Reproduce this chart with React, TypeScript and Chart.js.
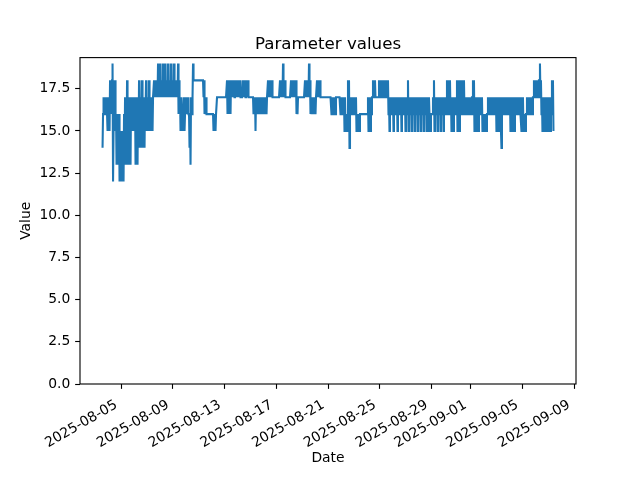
import React, { useEffect, useRef } from "react";
import { Chart, registerables } from "chart.js";

Chart.register(...registerables);

// Series time span (first and last sample)
const startTime = Date.UTC(2025, 7, 3, 13, 20);
const endTime = Date.UTC(2025, 8, 7, 9, 50);

// Readings in chronological order, evenly spaced between startTime and endTime
const valuesAug03toAug08 = [
  14, 16, 17, 16, 17, 16, 17, 16, 17, 16, 15, 17, 16, 17, 15, 18, 16, 18, 16, 18,
  19, 12, 12, 18, 16, 18, 15, 16, 13, 16, 13, 15, 13, 16, 12, 15, 13, 15, 12, 15,
  13, 15, 12, 16, 13, 17, 14, 17, 13, 18, 14, 17, 13, 17, 15, 17, 13, 17, 15, 17,
  15, 17, 15, 17, 16, 17, 13, 17, 15, 17, 13, 17, 14, 18, 15, 17, 14, 17, 16, 18,
  14, 17, 15, 17, 14, 17, 16, 18, 15, 17, 16, 17, 15, 18, 16, 17, 15, 17, 16, 17,
  15, 17, 17, 18, 17, 18, 17, 18, 17, 18, 17, 19, 17, 18, 17, 19, 17, 18, 17, 18,
  17, 19, 17, 18, 17, 19, 17, 18, 17, 18, 17, 19, 17, 18, 17, 18, 17, 19, 17, 18,
  17, 18, 17, 19, 17, 18, 17, 18, 17, 18, 17, 19, 16, 18, 16, 17, 15, 17, 15, 16,
  15, 16, 16, 17, 15, 16, 16, 17, 16, 17, 16, 17, 16, 16, 14, 16, 13, 17, 16, 16,
];
const valuesAug10toAug15 = [
  17, 19, 18, 18, 18, 18, 18, 18, 18, 18, 18, 18, 18, 18, 18, 18, 18, 18, 18, 18,
  18, 18, 17, 18, 16, 17, 16, 17, 16, 16, 16, 16, 16, 16, 16, 16, 16, 16, 16, 16,
  16, 16, 15, 16, 15, 16, 15, 16, 16, 17, 17, 17, 17, 17, 17, 17, 17, 17, 17, 17,
  17, 17, 17, 17, 17, 17, 17, 17, 17, 18, 16, 18, 16, 18, 17, 18, 16, 18, 17, 18,
  17, 18, 17, 18, 17, 17, 17, 18, 17, 18, 17, 18, 17, 18, 17, 18, 17, 17, 17, 17,
  17, 18, 17, 18, 17, 18, 17, 17, 17, 18, 17, 18, 17, 17, 17, 17, 17, 17, 17, 17,
  17, 17, 16, 17, 16, 17, 15, 17, 16, 17, 16, 17, 16, 17, 16, 17, 16, 17, 16, 17,
  16, 17, 16, 17, 16, 17, 16, 17, 16, 17, 17, 18, 17, 18, 17, 18, 17, 18, 17, 18,
  17, 17, 17, 17, 17, 17, 17, 17, 17, 17, 17, 17, 17, 17, 17, 18, 17, 18, 17, 18,
];
const valuesAug17toAug22 = [
  17, 19, 17, 18, 17, 18, 17, 17, 17, 17, 17, 17, 17, 17, 17, 17, 17, 18, 17, 18,
  17, 18, 17, 18, 17, 18, 17, 18, 16, 17, 16, 17, 17, 17, 17, 17, 17, 17, 17, 17,
  17, 17, 17, 17, 17, 18, 17, 18, 17, 18, 17, 18, 17, 19, 17, 18, 16, 17, 16, 17,
  16, 17, 16, 17, 16, 17, 16, 17, 17, 18, 17, 18, 17, 18, 17, 18, 17, 17, 17, 17,
  17, 17, 17, 17, 17, 17, 17, 17, 17, 17, 17, 17, 17, 17, 17, 17, 17, 17, 16, 17,
  16, 17, 16, 17, 16, 17, 16, 17, 17, 17, 17, 17, 17, 17, 17, 17, 16, 17, 16, 17,
  16, 17, 16, 17, 15, 17, 15, 16, 15, 16, 15, 18, 17, 18, 14, 16, 16, 17, 16, 17,
  16, 17, 16, 17, 16, 17, 16, 17, 15, 16, 15, 16, 15, 16, 15, 16, 16, 16, 16, 16,
  16, 16, 16, 16, 16, 16, 16, 16, 16, 16, 16, 17, 15, 17, 15, 16, 15, 17, 16, 17,
];
const valuesAug24toAug30 = [
  17, 18, 17, 18, 17, 18, 17, 17, 17, 17, 17, 17, 17, 18, 17, 18, 17, 18, 17, 18,
  17, 18, 17, 18, 17, 18, 17, 18, 17, 18, 17, 18, 16, 17, 15, 17, 16, 17, 16, 17,
  16, 17, 15, 17, 16, 17, 16, 17, 16, 17, 15, 17, 16, 17, 16, 17, 16, 17, 15, 17,
  16, 17, 16, 17, 16, 17, 15, 17, 16, 17, 16, 18, 15, 17, 16, 17, 16, 17, 15, 17,
  16, 17, 16, 17, 15, 17, 16, 17, 16, 17, 15, 17, 16, 17, 16, 17, 15, 17, 16, 17,
  16, 17, 15, 17, 16, 17, 16, 17, 15, 17, 16, 17, 15, 17, 16, 16, 15, 16, 16, 16,
  16, 17, 16, 18, 15, 17, 16, 17, 16, 17, 15, 17, 16, 17, 16, 17, 15, 17, 16, 17,
  16, 17, 15, 17, 16, 17, 16, 16, 16, 18, 16, 18, 16, 18, 16, 18, 16, 17, 15, 17,
  16, 17, 15, 17, 16, 17, 16, 17, 16, 18, 15, 18, 16, 18, 15, 18, 16, 18, 16, 18,
];
const valuesAug31toSep07 = [
  16, 17, 16, 18, 16, 17, 16, 17, 16, 17, 16, 17, 16, 17, 16, 17, 16, 17, 16, 17,
  17, 18, 16, 18, 15, 17, 16, 17, 15, 17, 16, 17, 15, 17, 16, 16, 16, 17, 16, 17,
  15, 16, 15, 16, 15, 16, 15, 16, 15, 16, 16, 17, 16, 17, 16, 17, 16, 17, 16, 17,
  16, 17, 16, 17, 16, 17, 16, 17, 15, 17, 16, 17, 15, 17, 16, 17, 16, 16, 14, 17,
  16, 17, 16, 17, 16, 17, 16, 17, 16, 17, 16, 17, 16, 17, 16, 17, 15, 17, 16, 17,
  15, 17, 16, 17, 15, 17, 16, 17, 16, 17, 16, 17, 16, 17, 16, 17, 16, 16, 15, 17,
  16, 17, 15, 16, 15, 16, 15, 16, 16, 17, 16, 17, 16, 17, 16, 17, 16, 17, 16, 17,
  16, 17, 17, 18, 17, 18, 17, 18, 17, 18, 17, 18, 17, 18, 18, 19, 17, 18, 16, 17,
  15, 17, 16, 17, 15, 17, 16, 17, 15, 17, 16, 17, 15, 17, 16, 17, 15, 17, 16, 18,
  16, 18, 15,
];

const xTickDates = [
  "2025-08-05", "2025-08-09", "2025-08-13", "2025-08-17", "2025-08-21",
  "2025-08-25", "2025-08-29", "2025-09-01", "2025-09-05", "2025-09-09",
];
const yTicks = [0, 2.5, 5, 7.5, 10, 12.5, 15, 17.5];
const yMin = 0;
const yMax = 19.35;

const chartTitle = "Parameter values";
const xAxisLabel = "Date";
const yAxisLabel = "Value";

const FONT = "'DejaVu Sans', sans-serif";

export default function App() {
  const canvasRef = useRef<HTMLCanvasElement | null>(null);

  useEffect(() => {
    document.body.style.margin = "0";
    const canvas = canvasRef.current;
    if (!canvas) return;

    const values = [
      ...valuesAug03toAug08,
      ...valuesAug10toAug15,
      ...valuesAug17toAug22,
      ...valuesAug24toAug30,
      ...valuesAug31toSep07,
    ];
    const step = (endTime - startTime) / (values.length - 1);
    const points = values.map((v, i) => ({ x: startTime + i * step, y: v }));
    const span = endTime - startTime;
    const xMin = startTime - 0.05 * span;
    const xMax = endTime + 0.05 * span;
    const xTickValues = xTickDates.map((d) => Date.parse(d + "T00:00:00Z"));

    const decorations = {
      id: "decorations",
      afterDraw(chart: any) {
        const { ctx, chartArea } = chart;
        const { left, right, top, bottom } = chartArea;
        ctx.save();
        ctx.strokeStyle = "#000";
        ctx.lineWidth = 1.11;
        ctx.strokeRect(left, top, right - left, bottom - top);
        ctx.fillStyle = "#000";
        ctx.textAlign = "center";
        ctx.textBaseline = "alphabetic";
        ctx.font = `16.67px ${FONT}`;
        ctx.fillText(chartTitle, (left + right) / 2, top - 8.5);
        ctx.font = `13.89px ${FONT}`;
        ctx.textBaseline = "middle";
        ctx.fillText(xAxisLabel, (left + right) / 2, 458);
        ctx.translate(26.5, (top + bottom) / 2);
        ctx.rotate(-Math.PI / 2);
        ctx.fillText(yAxisLabel, 0, 0);
        ctx.restore();
      },
    };

    const chart = new Chart(canvas, {
      type: "line",
      data: {
        datasets: [
          {
            data: points,
            borderColor: "#1f77b4",
            borderWidth: 2.08,
            pointRadius: 0,
            tension: 0,
            fill: false,
          },
        ],
      },
      options: {
        animation: false,
        responsive: false,
        devicePixelRatio: 1,
        events: [],
        parsing: false as any,
        layout: { padding: { top: 57.6, right: 64, bottom: 0, left: 0 } },
        plugins: {
          legend: { display: false },
          tooltip: { enabled: false },
          title: { display: false },
        },
        scales: {
          x: {
            type: "linear",
            min: xMin,
            max: xMax,
            afterBuildTicks: (scale: any) => {
              scale.ticks = xTickValues.map((v) => ({ value: v }));
            },
            afterFit: (scale: any) => {
              scale.height = 96;
            },
            grid: {
              display: true,
              drawOnChartArea: false,
              drawTicks: true,
              tickLength: 4.86,
              tickWidth: 1.11,
              tickColor: "#000",
            },
            border: { display: false },
            ticks: {
              autoSkip: false,
              minRotation: 30,
              maxRotation: 30,
              padding: 8,
              labelOffset: -5,
              color: "#000",
              font: { family: FONT, size: 13.89 },
              callback: (v: any) => new Date(Number(v)).toISOString().slice(0, 10),
            },
          },
          y: {
            type: "linear",
            min: yMin,
            max: yMax,
            afterBuildTicks: (scale: any) => {
              scale.ticks = yTicks.map((v) => ({ value: v }));
            },
            afterFit: (scale: any) => {
              scale.width = 80;
            },
            grid: {
              display: true,
              drawOnChartArea: false,
              drawTicks: true,
              tickLength: 4.86,
              tickWidth: 1.11,
              tickColor: "#000",
            },
            border: { display: false },
            ticks: {
              padding: 4.86,
              color: "#000",
              font: { family: FONT, size: 13.89 },
              callback: (v: any) => Number(v).toFixed(1),
            },
          },
        },
      },
      plugins: [decorations],
    });

    return () => chart.destroy();
  }, []);

  return (
    <div style={{ width: 640, height: 480, background: "#fff" }}>
      <canvas ref={canvasRef} width={640} height={480} style={{ display: "block" }} />
    </div>
  );
}
